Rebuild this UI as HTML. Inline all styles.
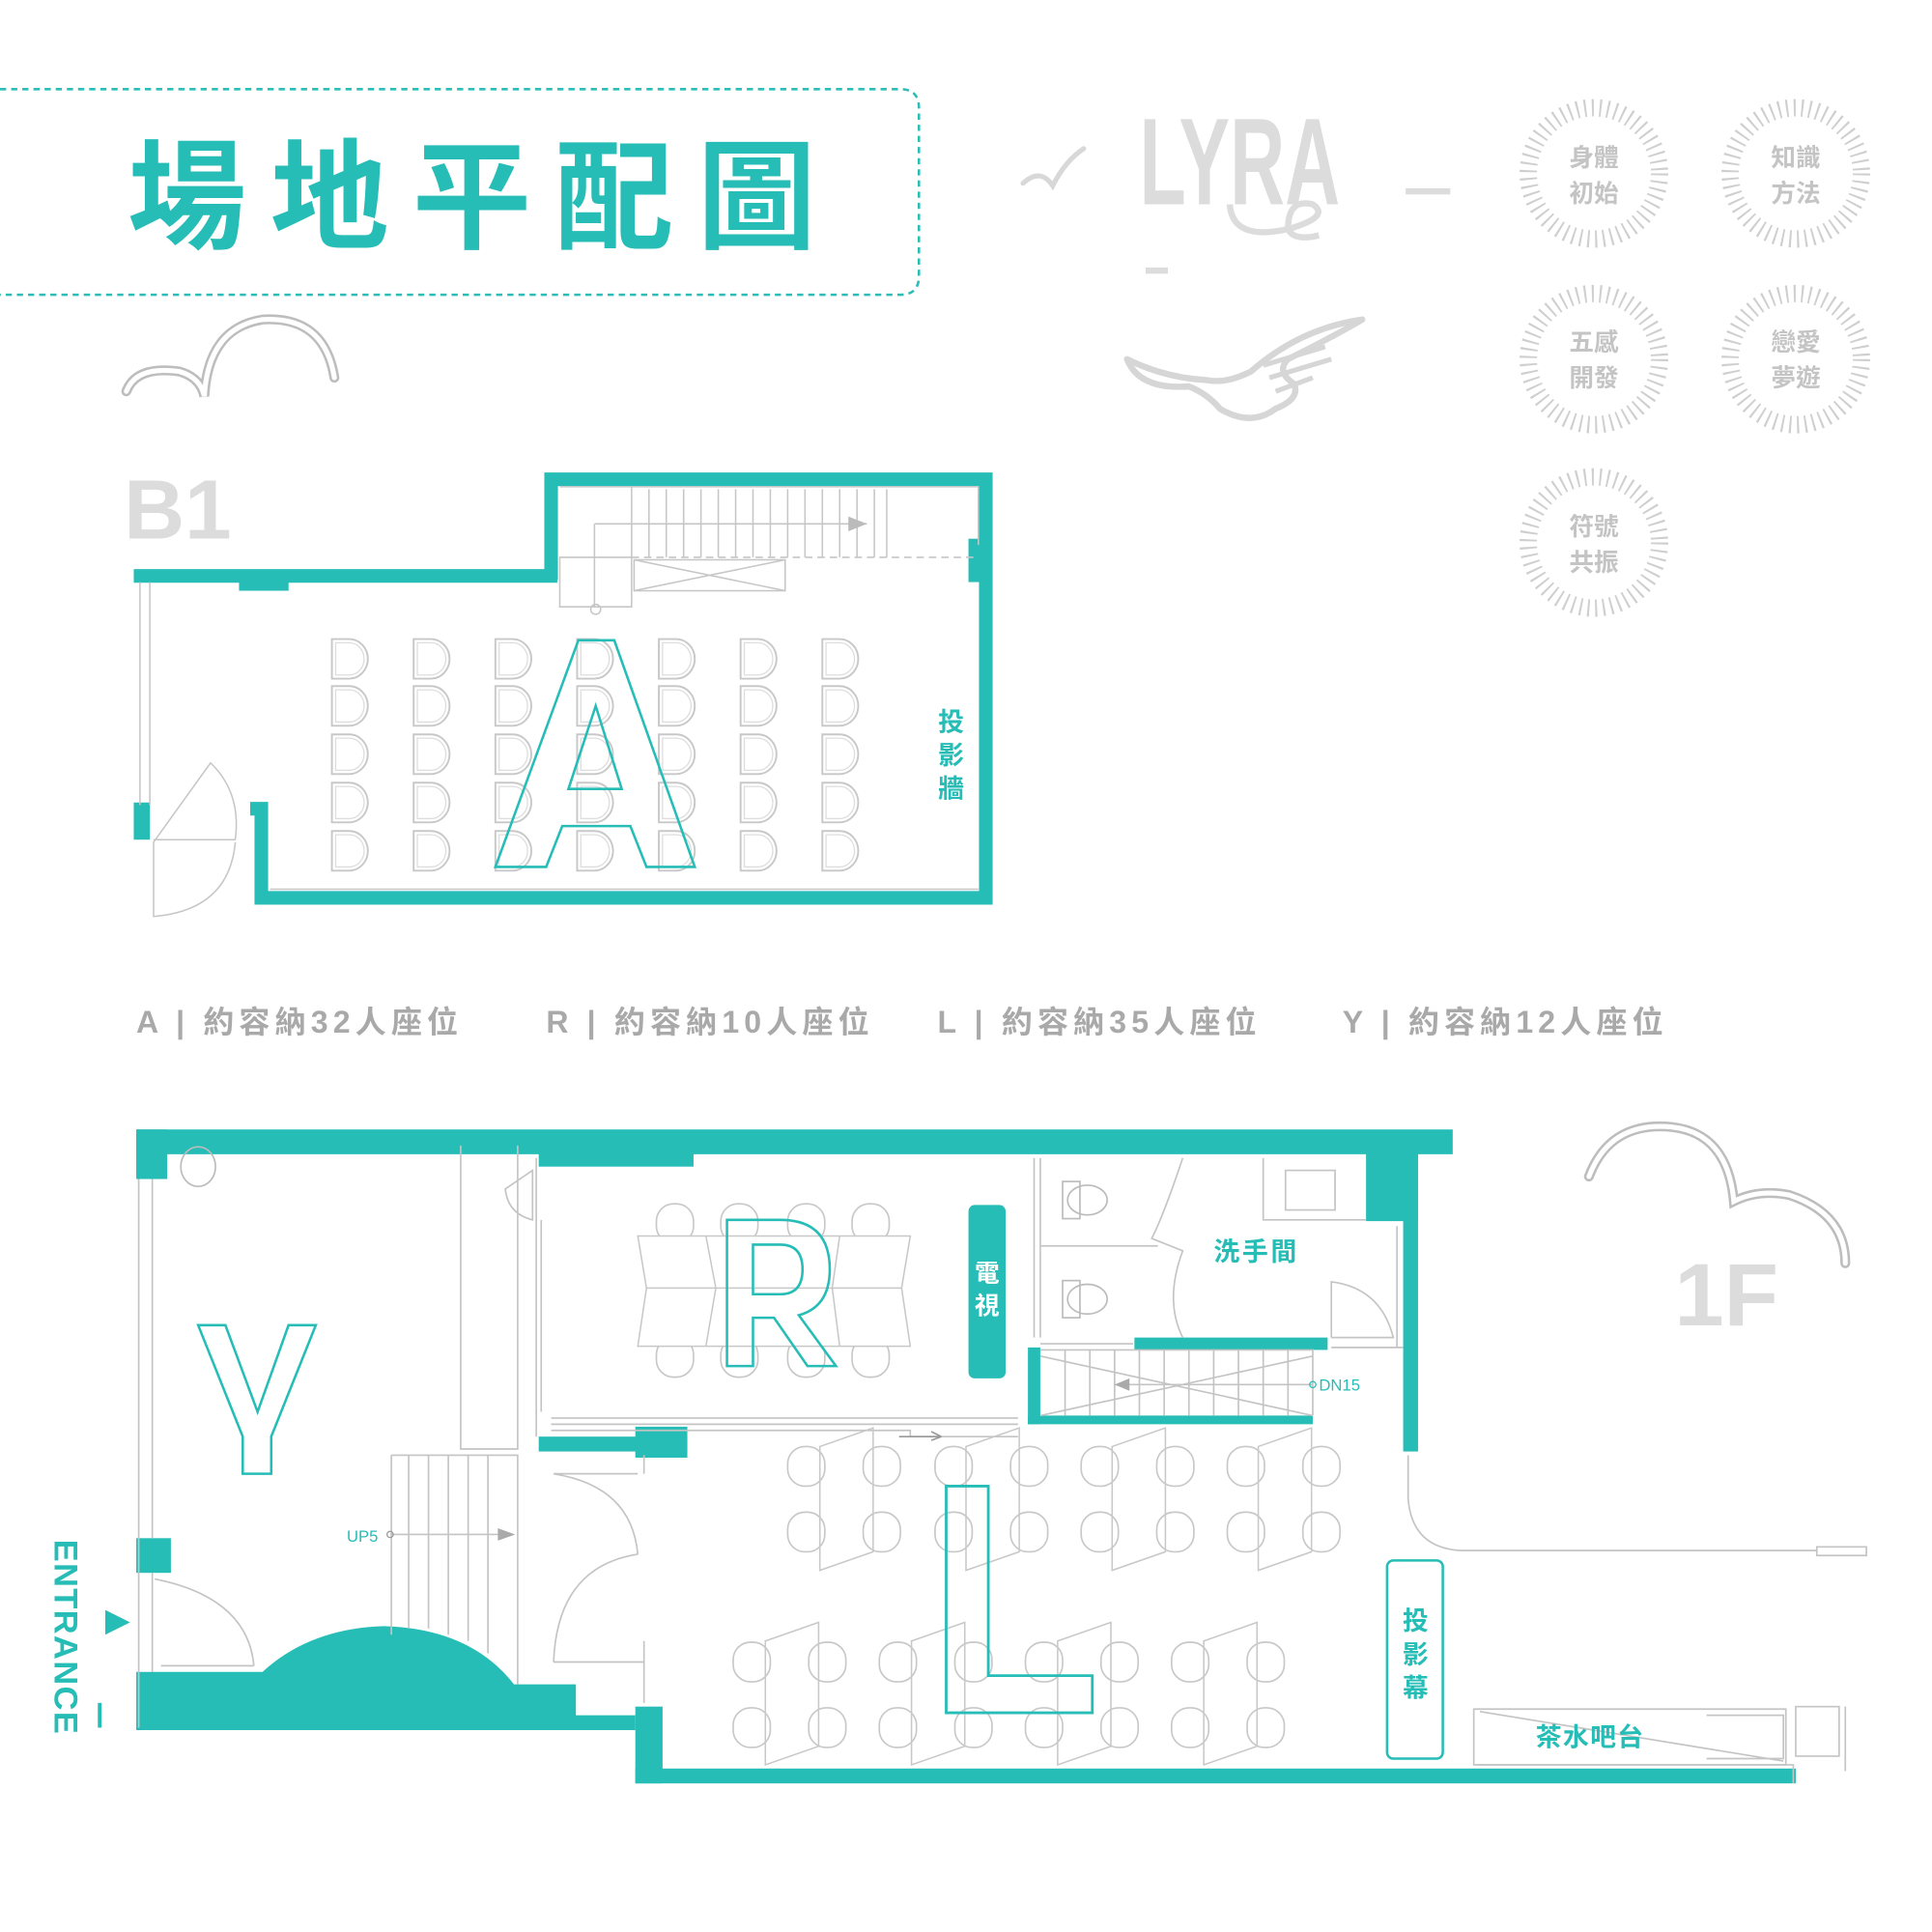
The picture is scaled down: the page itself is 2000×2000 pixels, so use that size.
<!DOCTYPE html>
<html><head><meta charset="utf-8"><style>
html,body{margin:0;padding:0;background:#fff;}
svg{display:block;}
text{font-family:"Liberation Sans","Noto Sans CJK TC",sans-serif;}
</style></head><body>
<svg width="2000" height="2000" viewBox="0 0 1560 1560" xmlns="http://www.w3.org/2000/svg">
<defs>
<g id="dch"><path d="M0,0 h14 a15,16 0 0 1 0,32 h-14 z" fill="none" stroke="#c8c8c8" stroke-width="1.5"/><path d="M3,3 h11 a12,13 0 0 1 0,26 h-11 z" fill="none" stroke="#ddd" stroke-width="1"/></g>
<g id="ch"><rect x="0" y="0" width="30" height="32" rx="14" fill="#fff" stroke="#c8c8c8" stroke-width="1.3"/></g>
<g id="rad"><circle r="53" fill="none" stroke="#cfcfcf" stroke-width="14" stroke-dasharray="1.6 4.6"/></g>
</defs>

<path d="M0,72 H727 Q742,72 742,87 V223 Q742,238 727,238 H0" fill="none" stroke="#2bbdb7" stroke-width="2" stroke-dasharray="5 4"/>
<text x="103" y="193" font-size="96" font-weight="bold" fill="#27bdb7" letter-spacing="19">場地平配圖</text>

<path d="M102,316 Q110,295 145,300 Q162,305 165,320 Q168,265 212,258 Q262,255 270,305" fill="none" stroke="#bdbdbd" stroke-width="8" stroke-linecap="round"/>
<path d="M102,316 Q110,295 145,300 Q162,305 165,320 Q168,265 212,258 Q262,255 270,305" fill="none" stroke="#fff" stroke-width="4" stroke-linecap="round"/>

<path d="M826,148 Q840,135 850,150 Q860,130 875,120" fill="none" stroke="#d8d8d8" stroke-width="4" stroke-linecap="round"/>
<text x="920" y="165" font-size="100" fill="#dcdcdc" font-weight="bold" textLength="162" lengthAdjust="spacingAndGlyphs">LYRA</text>
<path d="M993,165 Q995,195 1040,185 Q1075,175 1060,165 Q1040,160 1040,185 Q1045,195 1065,190" fill="none" stroke="#dcdcdc" stroke-width="5"/>
<rect x="1135" y="152" width="36" height="5" fill="#dcdcdc"/>
<rect x="925" y="216" width="18" height="5" fill="#dcdcdc"/>
<path d="M910,290 Q920,315 960,312 Q975,318 985,330 Q1010,345 1030,330 Q1050,322 1045,310 Q1030,300 1040,290 Q1080,270 1100,258 Q1050,265 1010,300 Q990,310 975,307 Q940,305 910,290 Z" fill="none" stroke="#d6d6d6" stroke-width="5" stroke-linejoin="round"/>
<path d="M1020,295 L1070,280 M1025,305 L1075,290 M1030,316 L1060,305" stroke="#d6d6d6" stroke-width="4"/>

<g font-size="20" font-weight="bold" fill="#c4c4c4" text-anchor="middle">
<use href="#rad" x="1287" y="140"/><text x="1287" y="134">身體</text><text x="1287" y="163">初始</text>
<use href="#rad" x="1450" y="140"/><text x="1450" y="134">知識</text><text x="1450" y="163">方法</text>
<use href="#rad" x="1287" y="290"/><text x="1287" y="283">五感</text><text x="1287" y="312">開發</text>
<use href="#rad" x="1450" y="290"/><text x="1450" y="283">戀愛</text><text x="1450" y="312">夢遊</text>
<use href="#rad" x="1287" y="438"/><text x="1287" y="432">符號</text><text x="1287" y="461">共振</text>
</g>

<text x="100" y="435" font-size="68" font-weight="bold" fill="#dcdcdc">B1</text>
<g fill="none" stroke="#27bdb7" stroke-width="11">
<path d="M445,468 V387 H796 V725 H211 V653 H202"/>
<path d="M108,465 H450"/>
</g>
<rect x="193" y="465" width="40" height="12" fill="#27bdb7"/>
<rect x="108" y="648" width="13" height="30" fill="#27bdb7"/>
<rect x="782" y="435" width="9" height="35" fill="#27bdb7"/>
<g fill="none" stroke="#c6c6c6" stroke-width="1.2">
<path d="M113,470 V650 M121,470 V650"/>
<path d="M218,718 H790"/>
<path d="M452,393 H790 V440"/>
<path d="M510,393 V450 M524,395 V450 M538,395 V450 M552,395 V450 M566,395 V450 M580,395 V450 M594,395 V450 M608,395 V450 M622,395 V450 M636,395 V450 M650,395 V450 M664,395 V450 M678,395 V450 M692,395 V450 M706,395 V450 M716,395 V450"/>
<path d="M510,450 H790" stroke-dasharray="6 4"/>
<path d="M480,423 H700 M480,423 V490 M452,450 H510 V490 H452 Z"/>
<rect x="512" y="452" width="122" height="25"/>
<path d="M512,452 L634,477 M634,452 L512,477"/>
<circle cx="481" cy="492" r="4"/>
<path d="M124,678 H190 M124,680 L170,616 Q195,640 190,678 M124,680 V740 Q185,735 190,680"/>
</g>
<path d="M685,417 L700,423 L685,429 Z" fill="#bbb"/>
<g>
<use href="#dch" x="268" y="516"/><use href="#dch" x="334" y="516"/><use href="#dch" x="400" y="516"/><use href="#dch" x="466" y="516"/><use href="#dch" x="532" y="516"/><use href="#dch" x="598" y="516"/><use href="#dch" x="664" y="516"/>
<use href="#dch" x="268" y="554"/><use href="#dch" x="334" y="554"/><use href="#dch" x="400" y="554"/><use href="#dch" x="466" y="554"/><use href="#dch" x="532" y="554"/><use href="#dch" x="598" y="554"/><use href="#dch" x="664" y="554"/>
<use href="#dch" x="268" y="593"/><use href="#dch" x="334" y="593"/><use href="#dch" x="400" y="593"/><use href="#dch" x="466" y="593"/><use href="#dch" x="532" y="593"/><use href="#dch" x="598" y="593"/><use href="#dch" x="664" y="593"/>
<use href="#dch" x="268" y="632"/><use href="#dch" x="334" y="632"/><use href="#dch" x="400" y="632"/><use href="#dch" x="466" y="632"/><use href="#dch" x="532" y="632"/><use href="#dch" x="598" y="632"/><use href="#dch" x="664" y="632"/>
<use href="#dch" x="268" y="671"/><use href="#dch" x="334" y="671"/><use href="#dch" x="400" y="671"/><use href="#dch" x="466" y="671"/><use href="#dch" x="532" y="671"/><use href="#dch" x="598" y="671"/><use href="#dch" x="664" y="671"/>
</g>
<path d="M400,700 L467,517 L496,517 L561,700 L522,700 L509,667 L454,667 L441,700 Z M459,637 L481,570 L502,637 Z" fill="none" stroke="#27bdb7" stroke-width="2"/>
<g font-size="21" font-weight="bold" fill="#27bdb7" text-anchor="middle"><text x="768" y="590">投</text><text x="768" y="617">影</text><text x="768" y="644">牆</text></g>

<g font-size="25" font-weight="bold" fill="#a9a9a9" letter-spacing="4">
<text x="110" y="834">A | 約容納32人座位</text>
<text x="441" y="834">R | 約容納10人座位</text>
<text x="757" y="834">L | 約容納35人座位</text>
<text x="1084" y="834">Y | 約容納12人座位</text>
</g>

<g fill="#27bdb7">
<rect x="110" y="912" width="1063" height="20"/>
<rect x="110" y="912" width="25" height="40"/>
<rect x="435" y="930" width="125" height="12"/>
<rect x="1103" y="930" width="42" height="56"/>
<rect x="1133" y="930" width="12" height="242"/>
<rect x="110" y="1242" width="28" height="28"/>
<rect x="513" y="1428" width="937" height="12"/>
<rect x="513" y="1378" width="22" height="62"/>
<rect x="435" y="1160" width="120" height="12"/>
<rect x="513" y="1152" width="42" height="25"/>
<rect x="916" y="1080" width="156" height="10"/>
<rect x="830" y="1088" width="10" height="62"/>
<rect x="830" y="1143" width="230" height="7"/>
<path d="M110,1350 H212 Q250,1315 310,1313 Q380,1315 415,1360 H465 V1385 H513 V1397 H110 Z"/>
</g>
<g fill="none" stroke="#c4c4c4" stroke-width="1.3">
<path d="M112,952 V1395 M123,952 V1242 M123,1270 V1350"/>
<path d="M372,925 V1170 H418 V925 M433,935 V1160"/>
<path d="M316,1175 H418 V1360 M316,1175 V1320 M330,1175 V1315 M346,1175 V1315 M362,1175 V1320 M378,1175 V1325 M394,1175 V1335"/>
<path d="M315,1239 H410"/>
<path d="M125,1275 Q200,1290 205,1345 M130,1345 H205"/>
<path d="M445,1145 H822 M445,1150 H822 M445,1155 H735 V1160 H822"/>
<path d="M447,1190 H515 M447,1190 Q510,1200 515,1255 M447,1342 Q450,1265 515,1255 M447,1342 H520 M520,1325 V1375 M520,1175 V1190"/>
<path d="M408,960 L430,945 V985 Q410,980 408,960 Z M437,985 V1140"/>
<path d="M835,935 V1080 M840,935 V1080 M840,1006 H935 M840,1085 H915 M955,935 Q940,980 930,1000 L955,1010 Q940,1050 955,1080"/>
<path d="M1020,935 V985 H1103 M1038,945 H1078 V977 H1038 Z"/>
<path d="M1075,1080 V1035 Q1115,1040 1125,1080 H1075 M1128,990 V1088 M1075,1088 H1133"/>
<path d="M840,1090 H1060 V1143 M840,1095 L1060,1143 M840,1143 L1060,1095 M860,1090 V1143 M880,1090 V1143 M900,1090 V1143 M920,1090 V1143 M940,1090 V1143 M960,1090 V1143 M980,1090 V1143 M1000,1090 V1143 M1020,1090 V1143 M1040,1090 V1143"/>
<path d="M900,1118 H1060"/>
<path d="M1137,1175 V1210 Q1140,1250 1180,1252 H1467 M1467,1249 H1507 V1256 H1467 Z"/>
<path d="M1190,1380 H1442 V1425 H1190 Z M1195,1382 L1440,1422 M1378,1385 H1440 V1420 H1378 M1450,1378 H1485 V1418 H1450 Z M1490,1378 V1430"/>
<path d="M1193,1425 H1448 V1440"/>
</g>
<g fill="none" stroke="#bbb" stroke-width="1.3">
<rect x="858" y="954" width="14" height="30"/><ellipse cx="878" cy="969" rx="16" ry="12"/>
<rect x="858" y="1034" width="14" height="30"/><ellipse cx="878" cy="1049" rx="16" ry="12"/>
<ellipse cx="160" cy="942" rx="14" ry="16"/>
</g>
<path d="M726,1160 H760 L752,1156 M760,1160 L752,1163" stroke="#999" fill="none" stroke-width="1.3"/>
<path d="M900,1118 L912,1113 V1123 Z M402,1234 L416,1239 L402,1244 Z" fill="#aaa"/>

<g>
<use href="#ch" x="530" y="972"/><use href="#ch" x="582" y="972"/><use href="#ch" x="636" y="972"/><use href="#ch" x="688" y="972"/>
<use href="#ch" x="530" y="1080"/><use href="#ch" x="582" y="1080"/><use href="#ch" x="636" y="1080"/><use href="#ch" x="688" y="1080"/>
</g>
<path d="M515,998 H735 L728,1040 L735,1087 H515 L522,1040 Z M522,1040 H728 M570,998 L578,1040 L570,1087 M678,998 L672,1040 L678,1087" fill="#fff" stroke="#c8c8c8" stroke-width="1.2"/>
<path d="M587,985 H630 Q670,985 670,1025 Q670,1055 645,1062 L675,1103 H652 L625,1064 H608 V1103 H587 Z M608,1005 V1045 H630 Q648,1045 648,1025 Q648,1005 630,1005 Z" fill="none" stroke="#27bdb7" stroke-width="2"/>
<rect x="782" y="973" width="30" height="140" rx="5" fill="#27bdb7"/>
<g font-size="20" font-weight="bold" fill="#fff" text-anchor="middle"><text x="797" y="1035">電</text><text x="797" y="1061">視</text></g>

<path d="M160,1070 H182 L208,1140 L233,1070 H255 L219,1160 V1190 H196 V1160 Z" fill="none" stroke="#27bdb7" stroke-width="2"/>

<g>
<use href="#ch" x="636" y="1168"/><use href="#ch" x="697" y="1168"/><use href="#ch" x="755" y="1168"/><use href="#ch" x="816" y="1168"/><use href="#ch" x="873" y="1168"/><use href="#ch" x="934" y="1168"/><use href="#ch" x="991" y="1168"/><use href="#ch" x="1052" y="1168"/>
<use href="#ch" x="636" y="1221"/><use href="#ch" x="697" y="1221"/><use href="#ch" x="755" y="1221"/><use href="#ch" x="816" y="1221"/><use href="#ch" x="873" y="1221"/><use href="#ch" x="934" y="1221"/><use href="#ch" x="991" y="1221"/><use href="#ch" x="1052" y="1221"/>
<use href="#ch" x="592" y="1326"/><use href="#ch" x="653" y="1326"/><use href="#ch" x="710" y="1326"/><use href="#ch" x="771" y="1326"/><use href="#ch" x="828" y="1326"/><use href="#ch" x="889" y="1326"/><use href="#ch" x="946" y="1326"/><use href="#ch" x="1007" y="1326"/>
<use href="#ch" x="592" y="1379"/><use href="#ch" x="653" y="1379"/><use href="#ch" x="710" y="1379"/><use href="#ch" x="771" y="1379"/><use href="#ch" x="828" y="1379"/><use href="#ch" x="889" y="1379"/><use href="#ch" x="946" y="1379"/><use href="#ch" x="1007" y="1379"/>
</g>
<g fill="none" stroke="#c8c8c8" stroke-width="1.2">
<path d="M662,1168 L705,1153 V1253 L662,1268 Z M780,1168 L823,1153 V1253 L780,1268 Z M898,1168 L941,1153 V1253 L898,1268 Z M1016,1168 L1059,1153 V1253 L1016,1268 Z"/>
<path d="M618,1325 L661,1310 V1410 L618,1425 Z M736,1325 L779,1310 V1410 L736,1425 Z M854,1325 L897,1310 V1410 L854,1425 Z M972,1325 L1015,1310 V1410 L972,1425 Z"/>
</g>
<path d="M764,1200 H798 V1353 H882 V1383 H764 Z" fill="none" stroke="#27bdb7" stroke-width="2.2"/>
<rect x="1120" y="1260" width="45" height="160" rx="5" fill="#fff" stroke="#27bdb7" stroke-width="2"/>
<g font-size="21" font-weight="bold" fill="#27bdb7" text-anchor="middle"><text x="1143" y="1316">投</text><text x="1143" y="1343">影</text><text x="1143" y="1370">幕</text></g>
<text x="980" y="1018" font-size="21" font-weight="bold" fill="#27bdb7" letter-spacing="2">洗手間</text>
<text x="1240" y="1410" font-size="21" font-weight="bold" fill="#27bdb7" letter-spacing="1">茶水吧台</text>
<text x="1065" y="1123" font-size="13" fill="#27bdb7">DN15</text>
<text x="280" y="1245" font-size="13" fill="#27bdb7">UP5</text>
<circle cx="1060" cy="1118" r="2.5" fill="none" stroke="#27bdb7"/>
<circle cx="315" cy="1239" r="2.5" fill="none" stroke="#999"/>

<text transform="translate(44,1243) rotate(90)" font-size="27" font-weight="bold" fill="#27bdb7" letter-spacing="1">ENTRANCE</text>
<path d="M85,1300 L105,1310 L85,1320 Z" fill="#27bdb7"/>
<rect x="79" y="1375" width="3" height="20" fill="#27bdb7"/>

<text x="1352" y="1070" font-size="72" font-weight="bold" fill="#dcdcdc">1F</text>
<path d="M1283,950 Q1300,905 1350,910 Q1395,915 1400,970 Q1420,960 1445,965 Q1490,980 1490,1020" fill="none" stroke="#bdbdbd" stroke-width="8" stroke-linecap="round"/>
<path d="M1283,950 Q1300,905 1350,910 Q1395,915 1400,970 Q1420,960 1445,965 Q1490,980 1490,1020" fill="none" stroke="#fff" stroke-width="4" stroke-linecap="round"/>
</svg>
</body></html>
